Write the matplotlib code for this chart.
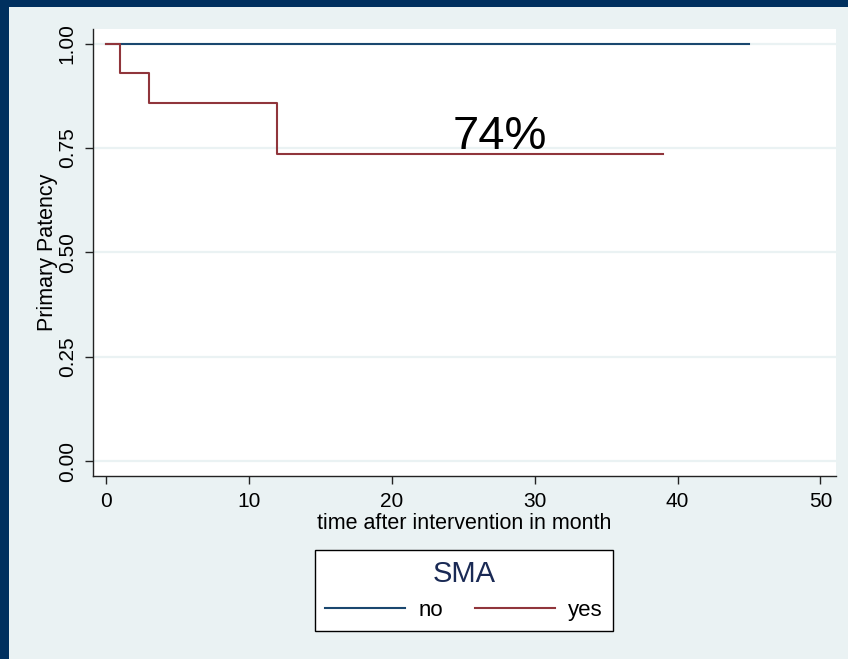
import matplotlib
matplotlib.use("Agg")
import matplotlib.pyplot as plt
from matplotlib.patches import Rectangle
import numpy as np

plt.rcParams['font.family'] = ['Liberation Sans', 'DejaVu Sans']

# Data (Kaplan-Meier step functions)
no_time = [0, 45]
no_surv = [1.0, 1.0]
yes_time = [0, 1, 3, 12, 39]
yes_surv = [1.0, 0.929, 0.857, 0.735, 0.735]

group_labels = ["no", "yes"]
legend_title = "SMA"
annotation = "74%"
xticks = [0, 10, 20, 30, 40, 50]
yticks = [0.00, 0.25, 0.50, 0.75, 1.00]

BG = "#eaf2f3"
DARK = "#00305f"
BLUE = "#1a476f"
RED = "#90353b"

fig = plt.figure(figsize=(8.48, 6.59), dpi=100)
fig.patch.set_facecolor(BG)
# slide border strips
fig.patches.append(Rectangle((0, 1 - 7/659), 1, 7/659, transform=fig.transFigure,
                             facecolor=DARK, edgecolor='none', zorder=0))
fig.patches.append(Rectangle((0, 0), 8.7/848, 1, transform=fig.transFigure,
                             facecolor=DARK, edgecolor='none', zorder=0))

ax = fig.add_axes([92.7/848, 1 - 475.7/659, (835.5 - 92.7)/848, (475.7 - 29)/659])
ax.set_facecolor("white")

for y in yticks:
    ax.axhline(y, color=BG, lw=1.6, zorder=1)

l1, = ax.step(no_time, no_surv, where='post', color=BLUE, lw=1.5, zorder=3, label=group_labels[0])
l2, = ax.step(yes_time, yes_surv, where='post', color=RED, lw=1.5, zorder=3, label=group_labels[1])

ax.text(500/848, 1 - 149/659, annotation, transform=fig.transFigure, ha='center',
        va='baseline', fontsize=34, color='black')

ax.set_xlim(-0.93, 51.05)
ax.set_ylim(-0.035, 1.035)
ax.set_xticks(xticks)
ax.set_yticks(yticks)
ax.set_yticklabels([f"{v:.2f}" for v in yticks])
for s in ['top', 'right']:
    ax.spines[s].set_visible(False)
for s in ['left', 'bottom']:
    ax.spines[s].set_color('#222222')
    ax.spines[s].set_linewidth(1.0)
ax.tick_params(axis='both', length=6, width=1.0, color='#222222', labelsize=15, pad=5.5)
ax.tick_params(axis='y', labelrotation=90)
for lbl in ax.get_yticklabels():
    lbl.set_va('center')

ax.set_xlabel("time after intervention in month", fontsize=15.5, labelpad=2)
ax.set_ylabel("Primary Patency", fontsize=15.5, labelpad=0)

leg = fig.legend(handles=[l1, l2], loc='center', bbox_to_anchor=(464/848, 1 - 590.5/659),
                 ncol=2, title=legend_title, fontsize=16, title_fontsize=21,
                 handlelength=3.6, handletextpad=0.6, columnspacing=1.4,
                 frameon=True, fancybox=False, borderpad=0.45, framealpha=1)
leg.get_frame().set_edgecolor('black')
leg.get_frame().set_facecolor('white')
leg.get_frame().set_linewidth(1.0)
leg.get_title().set_color("#1a2a55")

fig.savefig("out.png", dpi=100, facecolor=fig.get_facecolor())
